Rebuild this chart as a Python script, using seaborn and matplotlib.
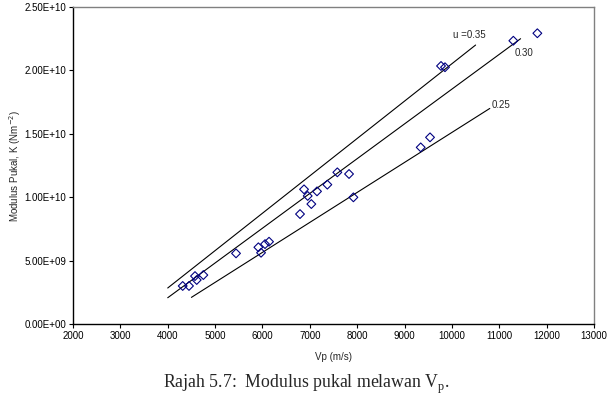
import matplotlib
matplotlib.use("Agg")
import matplotlib.pyplot as plt
import seaborn as sns
import pandas as pd
from matplotlib.ticker import FuncFormatter, MultipleLocator

vp = [4316, 4449, 4576, 4612, 4752, 5442, 5914, 5970, 6054, 6139,
      6793, 6878, 6955, 7032, 7152, 7370, 7581, 7828, 7920,
      9341, 9538, 9770, 9854, 11297, 11804]
k = [3.00e9, 3.00e9, 3.78e9, 3.47e9, 3.86e9, 5.57e9, 6.05e9, 5.62e9, 6.30e9, 6.49e9,
     8.67e9, 1.062e10, 1.010e10, 9.46e9, 1.046e10, 1.099e10, 1.196e10, 1.183e10, 9.99e9,
     1.393e10, 1.472e10, 2.035e10, 2.025e10, 2.234e10, 2.293e10]

line_labels = ["u =0.35", "0.30", "0.25"]
line_x = [[4000, 10500], [4000, 11450], [4500, 10800]]
line_y = [[2.84e9, 2.20e10], [2.07e9, 2.25e10], [2.10e9, 1.70e10]]

sns.set_theme(style="white")
plt.rcParams['font.family'] = ['Liberation Sans', 'DejaVu Sans']

fig = plt.figure(figsize=(6.09, 3.96), dpi=100)
ax = fig.add_axes([73/609, 1-324/396, (594-73)/609, (324-7)/396])

df = pd.DataFrame({"Vp": vp, "K": k})
sns.scatterplot(data=df, x="Vp", y="K", ax=ax, marker="D", s=20,
                facecolors="none", edgecolor="#000080", linewidth=0.8, zorder=3)

for lx, ly in zip(line_x, line_y):
    sns.lineplot(x=lx, y=ly, ax=ax, color="black", linewidth=0.8, zorder=2)

ax.text(10020, 2.28e10, line_labels[0], fontsize=7, ha="left", va="center")
ax.text(11330, 2.14e10, line_labels[1], fontsize=7, ha="left", va="center")
ax.text(10830, 1.73e10, line_labels[2], fontsize=7, ha="left", va="center")

ax.set_xlim(2000, 13000)
ax.set_ylim(0, 2.5e10)
ax.xaxis.set_major_locator(MultipleLocator(1000))
ax.yaxis.set_major_locator(MultipleLocator(5e9))
ax.yaxis.set_major_formatter(FuncFormatter(lambda v, p: f"{v:.2E}"))
ax.tick_params(axis="both", labelsize=7, direction="out", length=3, width=0.8,
               bottom=True, left=True, pad=2, colors="black")
ax.set_xlabel("Vp (m/s)", fontsize=7, labelpad=8)
ax.set_ylabel("Modulus Pukal, K (Nm$^{-2}$)", fontsize=7, labelpad=1)

for s in ["left", "bottom"]:
    ax.spines[s].set_color("black")
    ax.spines[s].set_linewidth(1.0)
for s in ["top", "right"]:
    ax.spines[s].set_color("#808080")
    ax.spines[s].set_linewidth(1.0)

fig.text(163/609, 1-384/396, "Rajah 5.7:  Modulus pukal melawan V$_\\mathregular{p}$.",
         fontsize=12.8, family="Liberation Serif", ha="left", va="center")

fig.savefig("out.png", dpi=100, facecolor="white")
